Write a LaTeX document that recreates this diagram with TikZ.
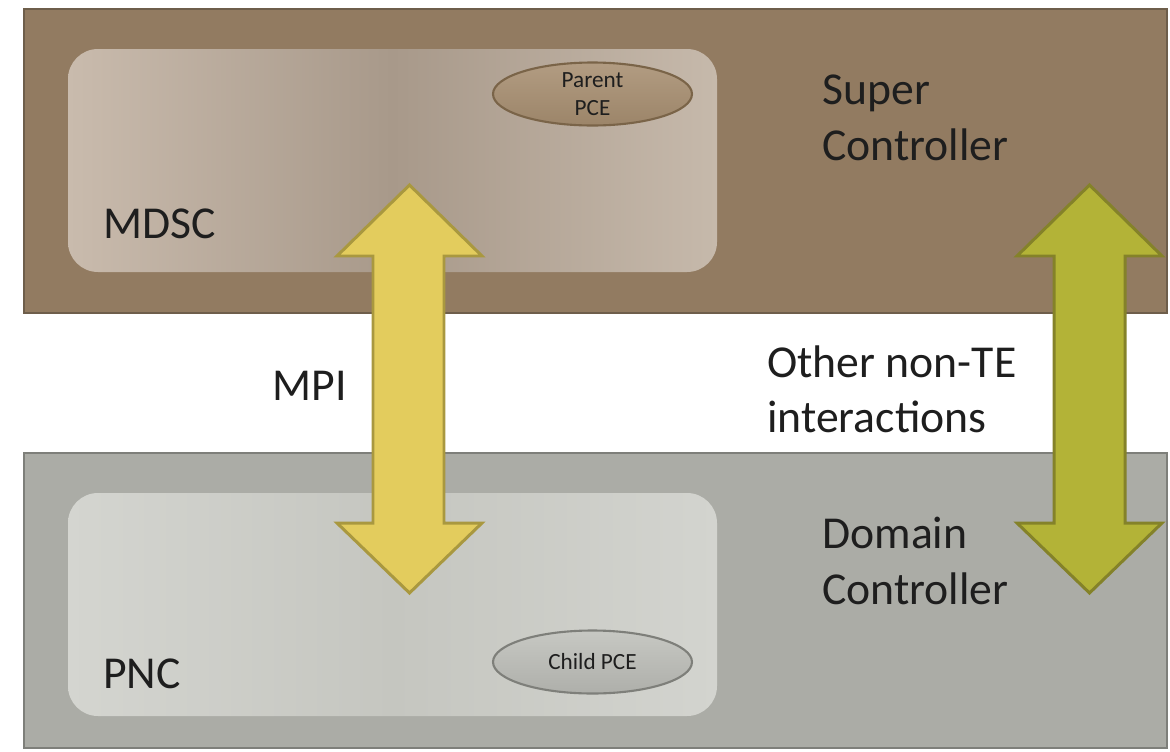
\documentclass[tikz,border=0pt]{standalone}
\usepackage{fontspec}
\setmainfont{Carlito}
\usetikzlibrary{shapes.geometric}
\definecolor{topfill}{HTML}{927B61}
\definecolor{topline}{HTML}{6E5E4B}
\definecolor{botfill}{HTML}{ABACA6}
\definecolor{botline}{HTML}{7E7F7A}
\definecolor{mdscL}{HTML}{C9BBAD}
\definecolor{mdscM}{HTML}{A8998A}
\definecolor{mdscR}{HTML}{C6B9AB}
\definecolor{pncL}{HTML}{D4D5D0}
\definecolor{pncM}{HTML}{C5C6C0}
\definecolor{pncR}{HTML}{D3D4CF}
\definecolor{mpiFill}{HTML}{E3CC5D}
\definecolor{mpiLine}{HTML}{A9983F}
\definecolor{othFill}{HTML}{B3B337}
\definecolor{othLine}{HTML}{848229}
\definecolor{parTop}{HTML}{B29C82}
\definecolor{parBot}{HTML}{9C8569}
\definecolor{parLine}{HTML}{7A6448}
\definecolor{chTop}{HTML}{C7C8C3}
\definecolor{chBot}{HTML}{AEAFAA}
\definecolor{chLine}{HTML}{7E7F7A}
\definecolor{txt}{HTML}{1E1E1E}
\begin{document}
\begin{tikzpicture}[x=0.02cm,y=-0.02cm,
  bigtext/.style={inner sep=0pt,text=txt,font=\fontsize{26}{31.7}\selectfont,align=left},
  smalltext/.style={text=txt,font=\fontsize{13.2}{15.9}\selectfont,align=center},
  pce/.style={ellipse,minimum width=3.98cm,minimum height=1.26cm,inner sep=0pt,line width=1.2pt},
  arrowshape/.style={line width=1.7pt,line join=miter}
]
\useasboundingbox (0,0) rectangle (1170,751);
% outer boxes
\draw[fill=topfill,draw=topline,line width=1.5pt] (24,9) rectangle (1167,313);
\draw[fill=botfill,draw=botline,line width=1.5pt] (24,453) rectangle (1167,748);
% inner boxes
\shade[left color=mdscL,right color=mdscR,middle color=mdscM,rounded corners=0.6cm] (68,49) rectangle (717,272);
\shade[left color=pncL,right color=pncR,middle color=pncM,rounded corners=0.6cm] (68,493) rectangle (717,716);
% ellipses
\node[pce,top color=parTop,bottom color=parBot,draw=parLine,smalltext] (parent) at (592.5,94) {Parent\\PCE};
\node[pce,top color=chTop,bottom color=chBot,draw=chLine,smalltext] (child) at (592.5,662) {Child PCE};
% arrows
\coordinate (mpiTop) at (409.5,185);
\coordinate (mpiBot) at (409.5,593);
\filldraw[arrowshape,fill=mpiFill,draw=mpiLine]
  (mpiTop) -- (482,256) -- (444,256) -- (444,523) -- (482,523) -- (mpiBot)
  -- (337,523) -- (373,523) -- (373,256) -- (337,256) -- cycle;
\coordinate (othTop) at (1089.5,185);
\coordinate (othBot) at (1089.5,593);
\filldraw[arrowshape,fill=othFill,draw=othLine]
  (othTop) -- (1162,256) -- (1125,256) -- (1125,523) -- (1162,523) -- (othBot)
  -- (1017,523) -- (1054,523) -- (1054,256) -- (1017,256) -- cycle;
% texts
\node[bigtext,anchor=base west] (mdsc) at (103,238) {MDSC};
\node[bigtext,anchor=base west] (pnc) at (103,688) {PNC};
\node[bigtext,anchor=base west] (mpi) at (272,400) {MPI};
\node[bigtext,anchor=north west] (super) at (822,75) {Super\\Controller};
\node[bigtext,anchor=north west] (other) at (767,345) {Other non-TE\\interactions};
\node[bigtext,anchor=north west] (domain) at (822,517) {Domain\\Controller};
\end{tikzpicture}
\end{document}
